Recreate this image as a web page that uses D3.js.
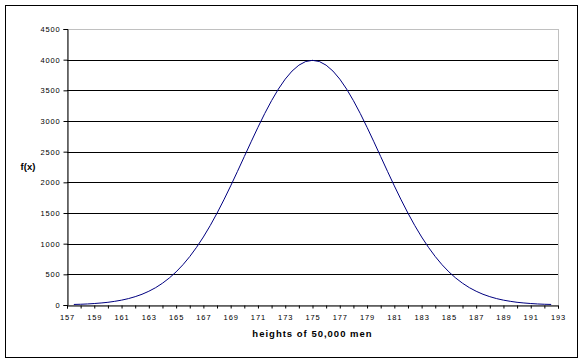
<!DOCTYPE html>
<html>
<head>
<meta charset="utf-8">
<script src="https://cdn.jsdelivr.net/npm/d3@7"></script>
<style>
  body { margin: 0; background: #fff; }
  text { font-family: Arial, "Liberation Sans", sans-serif; }
</style>
</head>
<body>
<div id="chart"></div>
<script>
// heights (cm) and f(x)
const heights = [157.5, 158, 158.5, 159, 159.5, 160, 160.5, 161, 161.5, 162, 162.5, 163, 163.5, 164, 164.5,
  165, 165.5, 166, 166.5, 167, 167.5, 168, 168.5, 169, 169.5, 170, 170.5, 171, 171.5, 172, 172.5, 173, 173.5,
  174, 174.5, 175, 175.5, 176, 176.5, 177, 177.5, 178, 178.5, 179, 179.5, 180, 180.5, 181, 181.5, 182, 182.5,
  183, 183.5, 184, 184.5, 185, 185.5, 186, 186.5, 187, 187.5, 188, 188.5, 189, 189.5, 190, 190.5, 191, 191.5,
  192, 192.5];
const fx = [9, 12, 17, 24, 33, 44, 60, 79, 104, 136, 175, 224, 283, 355, 440,
  540, 656, 790, 941, 1109, 1295, 1497, 1714, 1942, 2179, 2420, 2661, 2897, 3123, 3332, 3521, 3683, 3814,
  3910, 3970, 3989, 3970, 3910, 3814, 3683, 3521, 3332, 3123, 2897, 2661, 2420, 2179, 1942, 1714, 1497, 1295,
  1109, 941, 790, 656, 540, 440, 355, 283, 224, 175, 136, 104, 79, 60, 44, 33, 24, 17,
  12, 9];
const yTicks = [0, 500, 1000, 1500, 2000, 2500, 3000, 3500, 4000, 4500];
const xLabels = [157, 159, 161, 163, 165, 167, 169, 171, 173, 175, 177, 179, 181, 183, 185, 187, 189, 191, 193];
const xTicks = d3.range(157, 194);

const width = 583, height = 363;
const margin = {left: 67, right: 25, top: 29, bottom: 58};

const svg = d3.select('#chart').append('svg')
  .attr('width', width)
  .attr('height', height);

// outer frame
svg.append('rect')
  .attr('x', 5.5).attr('y', 5.5)
  .attr('width', 572).attr('height', 352)
  .attr('fill', 'none').attr('stroke', '#000');

const x = d3.scaleLinear().domain([157, 193]).range([margin.left, width - margin.right]);
const y = d3.scaleLinear().domain([0, 4500]).range([height - margin.bottom, margin.top]);

// plot border (grey)
svg.append('rect')
  .attr('x', x(157) + 0.5).attr('y', y(4500) + 0.5)
  .attr('width', x(193) - x(157)).attr('height', y(0) - y(4500))
  .attr('fill', 'none').attr('stroke', '#c0c0c0');

// gridlines
svg.append('g')
  .selectAll('line')
  .data(yTicks.filter(d => d > 0 && d < 4500))
  .join('line')
    .attr('x1', x(157)).attr('x2', x(193))
    .attr('y1', d => Math.round(y(d)) + 0.5)
    .attr('y2', d => Math.round(y(d)) + 0.5)
    .attr('stroke', '#000');

// y axis
const yAxis = svg.append('g')
  .attr('transform', `translate(${x(157) + 0.5},0)`)
  .call(d3.axisLeft(y).tickValues(yTicks).tickSize(4).tickPadding(3).tickFormat(d3.format('d')));
yAxis.select('.domain').attr('stroke', '#000');
yAxis.selectAll('text')
  .attr('font-size', 7.5).attr('fill', '#000')
  .style('letter-spacing', '0.8px');

// x axis
const xAxis = svg.append('g')
  .attr('transform', `translate(0,${Math.round(y(0)) + 0.5})`)
  .call(d3.axisBottom(x).tickValues(xTicks).tickSize(3).tickPadding(6)
    .tickFormat(d => xLabels.includes(d) ? d : ''));
xAxis.select('.domain').attr('stroke', '#000');
xAxis.selectAll('text')
  .attr('font-size', 7.5).attr('fill', '#000')
  .style('letter-spacing', '0.9px');

// curve
svg.append('path')
  .datum(heights.map((h, i) => [h, fx[i]]))
  .attr('fill', 'none')
  .attr('stroke', '#000080')
  .attr('stroke-width', 1)
  .attr('d', d3.line().x(d => x(d[0])).y(d => y(d[1])));

// titles
svg.append('text')
  .attr('x', (x(157) + x(193)) / 2).attr('y', 337)
  .attr('text-anchor', 'middle')
  .attr('font-size', 9.5).attr('font-weight', 'bold')
  .style('letter-spacing', '1px')
  .text('heights of 50,000 men');

svg.append('text')
  .attr('x', 28).attr('y', 170)
  .attr('text-anchor', 'middle')
  .attr('font-size', 9.5).attr('font-weight', 'bold')
  .text('f(x)');
</script>
</body>
</html>
